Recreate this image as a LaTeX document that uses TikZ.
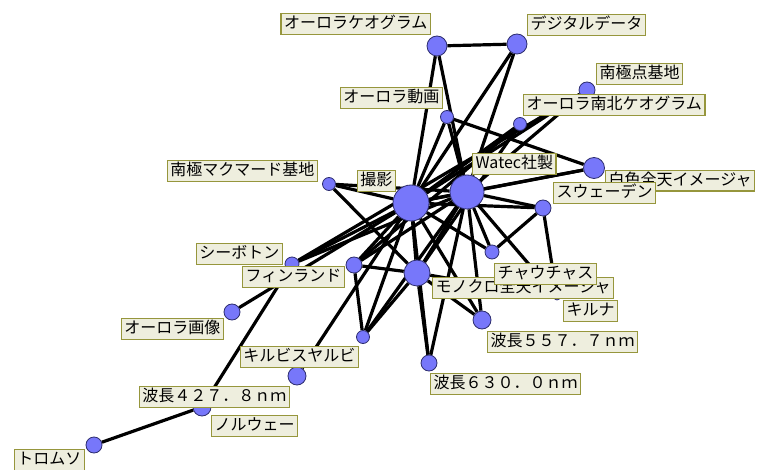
\documentclass[tikz,border=0pt]{standalone}
\usepackage{fontspec}
\setmainfont{Noto Sans CJK JP}
\usetikzlibrary{graphs,backgrounds}
\definecolor{dotfill}{RGB}{119,119,250}
\definecolor{dotline}{RGB}{45,45,110}
\definecolor{tagfill}{RGB}{238,238,222}
\definecolor{tagline}{RGB}{150,150,60}
\tikzset{
  vertex/.style={circle,draw=dotline,fill=dotfill,line width=0.8pt,inner sep=0pt,minimum size=#1},
  tag/.style={draw=tagline,fill=tagfill,line width=1.4pt,inner xsep=3pt,inner ysep=2pt,
    font=\fontsize{16}{17}\selectfont,text height=13pt,text depth=3.5pt}
}
\begin{document}
\begin{tikzpicture}[x=1pt,y=-1pt,new set=import nodes]
\useasboundingbox (0,0) rectangle (765,470);
\begin{scope}[nodes={set=import nodes}]
\node [vertex=20pt] (keo) at (437,46) {};
\node [vertex=20pt] (dig) at (517,44) {};
\node [vertex=16pt] (pole) at (587,90) {};
\node [vertex=13pt] (movie) at (447,117) {};
\node [vertex=13pt] (nskeo) at (520,124) {};
\node [vertex=21pt] (white) at (594,168) {};
\node [vertex=34pt] (watec) at (467,192) {};
\node [vertex=36pt] (shoot) at (411,203) {};
\node [vertex=13pt] (mcm) at (329,184) {};
\node [vertex=16pt] (swe) at (543,208) {};
\node [vertex=14pt] (chau) at (492,252) {};
\node [vertex=14pt] (sea) at (292,264) {};
\node [vertex=16pt] (fin) at (354,265) {};
\node [vertex=26pt] (mono) at (417,273) {};
\node [vertex=6pt] (kir) at (557,297) {};
\node [vertex=18pt] (w557) at (482,320) {};
\node [vertex=13pt] (kiru) at (363,337) {};
\node [vertex=16pt] (w630) at (429,363) {};
\node [vertex=16pt] (img) at (232,312) {};
\node [vertex=18pt] (w427) at (297,376) {};
\node [vertex=18pt] (nor) at (202,407) {};
\node [vertex=16pt] (tro) at (94,445) {};
\end{scope}
\begin{pgfonlayer}{background}
\graph [edges={line width=3.2pt}]
{ (import nodes);
keo -- {dig, shoot, watec};
dig -- {shoot, watec};
movie -- {shoot, watec, white};
nskeo -- {shoot, mono, fin};
pole -- {shoot, watec, sea};
white -- {watec, shoot};
mcm -- {shoot, watec, mono};
swe -- {watec, shoot, chau, kir};
chau -- {watec, shoot};
kir -- {watec, mono};
w557 -- {shoot, watec, mono};
w630 -- {shoot, watec, mono};
fin -- {mono, kiru, shoot, watec};
kiru -- {shoot, watec, mono};
sea -- {shoot, watec, nor};
img -- shoot; w427 -- shoot;
nor -- tro;
shoot -- {watec, mono}; watec -- mono;
};
\end{pgfonlayer}
% labels
\node [tag,anchor=south east] (keo-tag) at (431,35) {オーロラケオグラム};
\node [tag,anchor=south west] (dig-tag) at (527,36) {デジタルデータ};
\node [tag,anchor=south west] (pole-tag) at (596,85) {南極点基地};
\node [tag,anchor=south east] (movie-tag) at (443,109) {オーロラ動画};
\node [tag,anchor=south west] (nskeo-tag) at (523,116) {オーロラ南北ケオグラム};
\node [tag,anchor=north west] (white-tag) at (605,170) {白色全天イメージャ};
\node [tag,anchor=south west] (watec-tag) at (472,175) {Watec社製};
\node [tag,anchor=south east] (shoot-tag) at (396,192) {撮影};
\node [tag,anchor=south east] (mcm-tag) at (318,182) {南極マクマード基地};
\node [tag,anchor=south west] (swe-tag) at (553,204) {スウェーデン};
\node [tag,anchor=south east] (sea-tag) at (283,265) {シーボトン};
\node [tag,anchor=north east] (fin-tag) at (345,266) {フィンランド};
\node [tag,anchor=north west] (mono-tag) at (432,277) {モノクロ全天イメージャ};
\node [tag,anchor=north west] (chau-tag) at (494,263) {チャウチャス};
\node [tag,anchor=north west] (kir-tag) at (563,300) {キルナ};
\node [tag,anchor=north west] (w557-tag) at (487,331) {波長５５７．７ｎｍ};
\node [tag,anchor=north east] (kiru-tag) at (359,346) {キルビスヤルビ};
\node [tag,anchor=north west] (w630-tag) at (430,373) {波長６３０．０ｎｍ};
\node [tag,anchor=north east] (img-tag) at (224,318) {オーロラ画像};
\node [tag,anchor=north east] (w427-tag) at (290,386) {波長４２７．８ｎｍ};
\node [tag,anchor=north west] (nor-tag) at (211,415) {ノルウェー};
\node [tag,anchor=north east] (tro-tag) at (85,449) {トロムソ};
\end{tikzpicture}
\end{document}
